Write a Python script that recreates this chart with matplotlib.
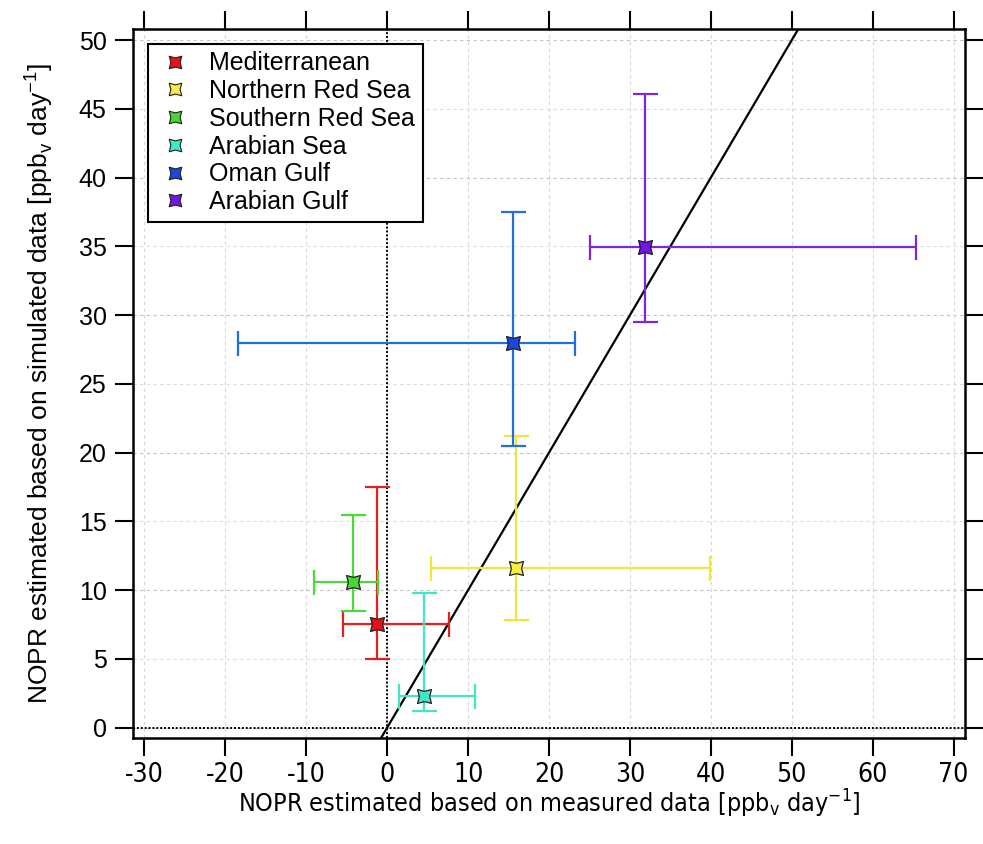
import numpy as np
import matplotlib
matplotlib.use('Agg')
import matplotlib.pyplot as plt
from matplotlib.path import Path
from matplotlib.lines import Line2D

# regional NOPR: measured (x) vs simulated (y), with min/max ranges
regions = ['Mediterranean', 'Northern Red Sea', 'Southern Red Sea',
           'Arabian Sea', 'Oman Gulf', 'Arabian Gulf']
x_meas = np.array([-1.2, 15.9, -4.2, 4.6, 15.55, 31.85])
y_sim = np.array([7.55, 11.6, 10.6, 2.28, 27.95, 34.98])
x_low = np.array([-5.4, 5.4, -9.0, 1.5, -18.4, 25.1])
x_high = np.array([7.65, 39.9, -1.15, 10.9, 23.2, 65.4])
y_low = np.array([5.0, 7.85, 8.45, 1.19, 20.5, 29.5])
y_high = np.array([17.5, 21.2, 15.5, 9.8, 37.5, 46.1])

bar_colors = ['#e2201e', '#f2e63c', '#4cd83a', '#40e6c6', '#2070d8', '#8024e0']
face_colors = ['#e8101a', '#f5ee3a', '#44d830', '#3ee8c8', '#1848e0', '#7414e8']

xticks = np.arange(-30, 71, 10)
yticks = np.arange(0, 51, 5)

# square with concave sides, like the Igor marker
d = 0.74
verts = [(-1, -1), (0, -d), (1, -1), (d, 0), (1, 1), (0, d),
         (-1, 1), (-d, 0), (-1, -1)]
star_sq = Path(verts, [Path.MOVETO] + [Path.LINETO] * 7 + [Path.CLOSEPOLY])

regular = ['Liberation Sans', 'DejaVu Sans']
narrow = ['Liberation Sans Narrow', 'DejaVu Sans']
plt.rcParams['font.family'] = regular
plt.rcParams['axes.unicode_minus'] = False
plt.rcParams['mathtext.fontset'] = 'custom'
plt.rcParams['mathtext.rm'] = 'Liberation Sans'

fig = plt.figure(figsize=(9.83, 8.44), dpi=100)
ax = fig.add_axes([0.1353, 0.1256, 0.8464, 0.84])

ax.set_xlim(-31.4, 71.4)
ax.set_ylim(-0.75, 50.8)

ax.set_xticks(xticks)
ax.set_yticks(yticks)
for v in xticks:
    ax.axvline(v, color='#d6d6d6', lw=0.8, ls=(0, (3, 3)), zorder=0)
for v in yticks:
    ax.axhline(v, color='#c4c4c4' if v % 10 == 0 else '#dcdcdc',
               lw=0.8, ls=(0, (3, 3)), zorder=0)

ax.axvline(0, color='k', lw=1.4, ls=(0, (1, 1)), zorder=1)
ax.axhline(0, color='k', lw=1.4, ls=(0, (1, 1)), zorder=1)

# 1:1 line
one = np.array([-5, 80])
ax.plot(one, one, color='k', lw=1.6, zorder=2)

for i in range(len(regions)):
    ax.errorbar(x_meas[i], y_sim[i],
                xerr=[[x_meas[i] - x_low[i]], [x_high[i] - x_meas[i]]],
                yerr=[[y_sim[i] - y_low[i]], [y_high[i] - y_sim[i]]],
                fmt='none', ecolor=bar_colors[i], elinewidth=1.6,
                capsize=9, capthick=1.6, zorder=3)
    ax.plot(x_meas[i], y_sim[i], marker=star_sq, ms=10, mfc=face_colors[i],
            mec='#202020', mew=0.9, ls='none', zorder=4)

for s in ax.spines.values():
    s.set_linewidth(1.8)

ax.tick_params(direction='out', length=13, width=1.5, top=True, right=True,
               labeltop=False, labelright=False)
ax.tick_params(axis='y', pad=6, labelsize=18)
ax.tick_params(axis='x', pad=4, labelsize=19)
for lab in ax.get_xticklabels():
    lab.set_family(narrow)
    lab.set_stretch('condensed')

xl = ax.set_xlabel(r'NOPR estimated based on measured data [ppb$_\mathregular{v}$ day$^{\mathregular{-1}}$]',
                   family=narrow, fontsize=18, labelpad=0)
xl.set_stretch('condensed')
ax.set_ylabel(r'NOPR estimated based on simulated data [ppb$_\mathregular{v}$ day$^{\mathregular{-1}}$]',
              fontsize=19, labelpad=17)

handles = [Line2D([], [], marker=star_sq, ms=9, mfc=face_colors[i],
                  mec='#202020', mew=0.8, ls='none') for i in range(len(regions))]
leg = ax.legend(handles, regions, loc='upper left', bbox_to_anchor=(0.018, 0.979),
                fontsize=18, frameon=True, fancybox=False, framealpha=1,
                edgecolor='k', borderaxespad=0, handlelength=1.6,
                handletextpad=0.55, labelspacing=0.15, borderpad=0.3)
leg.get_frame().set_linewidth(1.5)

fig.savefig('out.png', dpi=100)
